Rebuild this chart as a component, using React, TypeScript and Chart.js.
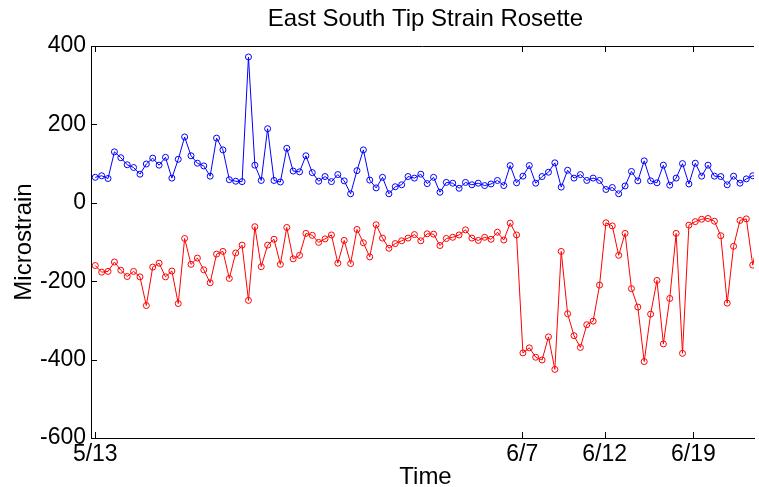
import React, { useEffect, useRef } from 'react';
import { Chart, registerables } from 'chart.js';

Chart.register(...registerables);

const TITLE = 'East South Tip Strain Rosette';
const X_LABEL = 'Time';
const Y_LABEL = 'Microstrain';

const tickLabels = ['5/13', '6/7', '6/12', '6/19'];
const tickIndices = [0, 66.9, 79.8, 93.7];
const yMin = -600;
const yMax = 400;
const yStep = 200;

const blueValues = [
  65, 69, 62, 130, 115, 97, 90, 73, 99, 114,
  96, 116, 63, 111, 168, 120, 101, 94, 68, 165,
  135, 59, 55, 54, 372, 96, 57, 189, 57, 53,
  139, 81, 79, 120, 77, 55, 67, 54, 72, 56,
  23, 82, 135, 58, 38, 65, 23, 41, 46, 67,
  63, 73, 49, 65, 27, 52, 50, 37, 52, 46,
  50, 44, 48, 57, 44, 95, 51, 68, 95, 50,
  67, 78, 102, 40, 83, 63, 72, 57, 63, 57,
  34, 39, 23, 43, 80, 56, 107, 56, 51, 96,
  45, 63, 100, 48, 101, 68, 96, 68, 67, 46,
  68, 50, 61, 69, 65,
];

const redValues = [
  -160, -177, -175, -151, -172, -188, -175, -189, -262, -164,
  -154, -189, -174, -257, -91, -157, -141, -171, -204, -131,
  -124, -193, -128, -108, -249, -61, -163, -108, -93, -157,
  -63, -143, -134, -78, -83, -101, -92, -82, -154, -96,
  -155, -68, -102, -138, -56, -90, -116, -104, -97, -90,
  -81, -97, -79, -80, -109, -91, -88, -82, -69, -90,
  -96, -88, -93, -75, -95, -52, -82, -383, -370, -394,
  -401, -342, -425, -124, -283, -339, -369, -311, -302, -210,
  -51, -59, -134, -78, -219, -266, -405, -284, -198, -360,
  -244, -78, -384, -57, -48, -42, -40, -47, -84, -256,
  -111, -45, -41, -159, -80,
];

const FONT = '"Liberation Sans", Arial, Helvetica, sans-serif';

const decorPlugin = {
  id: 'decor',
  afterDraw(chart: any) {
    const { ctx, chartArea: a, scales } = chart;
    const xs = scales.x;
    const ys = scales.y;
    ctx.save();
    ctx.strokeStyle = '#000';
    ctx.lineWidth = 1;
    ctx.beginPath();
    ctx.moveTo(a.left, a.top + 0.5);
    ctx.lineTo(a.right, a.top + 0.5);
    for (const t of ys.ticks) {
      const py = Math.round(ys.getPixelForValue(t.value)) + 0.5;
      ctx.moveTo(a.left, py);
      ctx.lineTo(a.left + 6, py);
    }
    for (const t of xs.ticks) {
      const px = Math.round(xs.getPixelForValue(t.value)) + 0.5;
      ctx.moveTo(px, a.bottom);
      ctx.lineTo(px, a.bottom - 6);
      ctx.moveTo(px, a.top);
      ctx.lineTo(px, a.top + 6);
    }
    ctx.stroke();

    ctx.fillStyle = '#000';
    ctx.textAlign = 'center';
    ctx.textBaseline = 'alphabetic';
    ctx.font = `24px ${FONT}`;
    const cx = (a.left + a.right) / 2 + 3;
    ctx.fillText(TITLE, cx, 26);
    ctx.fillText(X_LABEL, cx, 484);
    ctx.translate(31, (a.top + a.bottom) / 2);
    ctx.rotate(-Math.PI / 2);
    ctx.fillText(Y_LABEL, 0, 0);
    ctx.restore();
  },
};

export default function App() {
  const ref = useRef<HTMLCanvasElement | null>(null);

  useEffect(() => {
    document.body.style.margin = '0';
    const canvas = ref.current;
    if (!canvas) return;
    const chart = new Chart(canvas, {
      type: 'line',
      data: {
        datasets: [
          {
            label: 'Blue',
            data: blueValues.map((v, i) => ({ x: i, y: v })),
            borderColor: 'rgb(0,0,255)',
            backgroundColor: 'rgba(0,0,0,0)',
            borderWidth: 1,
            pointRadius: 3,
            pointBorderWidth: 1,
            pointBorderColor: 'rgb(0,0,255)',
            pointBackgroundColor: 'rgba(0,0,0,0)',
            tension: 0,
          },
          {
            label: 'Red',
            data: redValues.map((v, i) => ({ x: i, y: v })),
            borderColor: 'rgb(255,0,0)',
            backgroundColor: 'rgba(0,0,0,0)',
            borderWidth: 1,
            pointRadius: 3,
            pointBorderWidth: 1,
            pointBorderColor: 'rgb(255,0,0)',
            pointBackgroundColor: 'rgba(0,0,0,0)',
            tension: 0,
          },
        ],
      },
      options: {
        animation: false,
        responsive: false,
        devicePixelRatio: 1,
        layout: { padding: { top: 46, left: 0, right: 0, bottom: 0 } },
        plugins: {
          legend: { display: false },
          title: { display: false },
          tooltip: { enabled: false },
        },
        scales: {
          x: {
            type: 'linear',
            min: -0.67,
            max: 103.2,
            grid: { display: false, drawTicks: false },
            border: { display: true, color: '#000', width: 1 },
            afterBuildTicks: (scale: any) => {
              scale.ticks = tickIndices.map((v) => ({ value: v }));
            },
            afterFit: (scale: any) => {
              scale.height = 49;
              scale.paddingLeft = 0;
              scale.paddingRight = 0;
            },
            ticks: {
              autoSkip: false,
              maxRotation: 0,
              padding: 3,
              color: '#000',
              font: { family: FONT, size: 23 },
              callback: (_v: any, i: number) => tickLabels[i],
            },
          },
          y: {
            type: 'linear',
            min: yMin,
            max: yMax,
            grid: { display: false, drawTicks: false },
            border: { display: true, color: '#000', width: 1 },
            afterFit: (scale: any) => {
              scale.width = 91;
              scale.paddingTop = 0;
              scale.paddingBottom = 0;
            },
            ticks: {
              stepSize: yStep,
              padding: 5,
              color: '#000',
              font: { family: FONT, size: 23 },
            },
          },
        },
      },
      plugins: [decorPlugin],
    });
    return () => chart.destroy();
  }, []);

  return (
    <canvas
      ref={ref}
      width={759}
      height={487}
      style={{ position: 'absolute', left: 0, top: 0, display: 'block', width: 759, height: 487 }}
    />
  );
}
